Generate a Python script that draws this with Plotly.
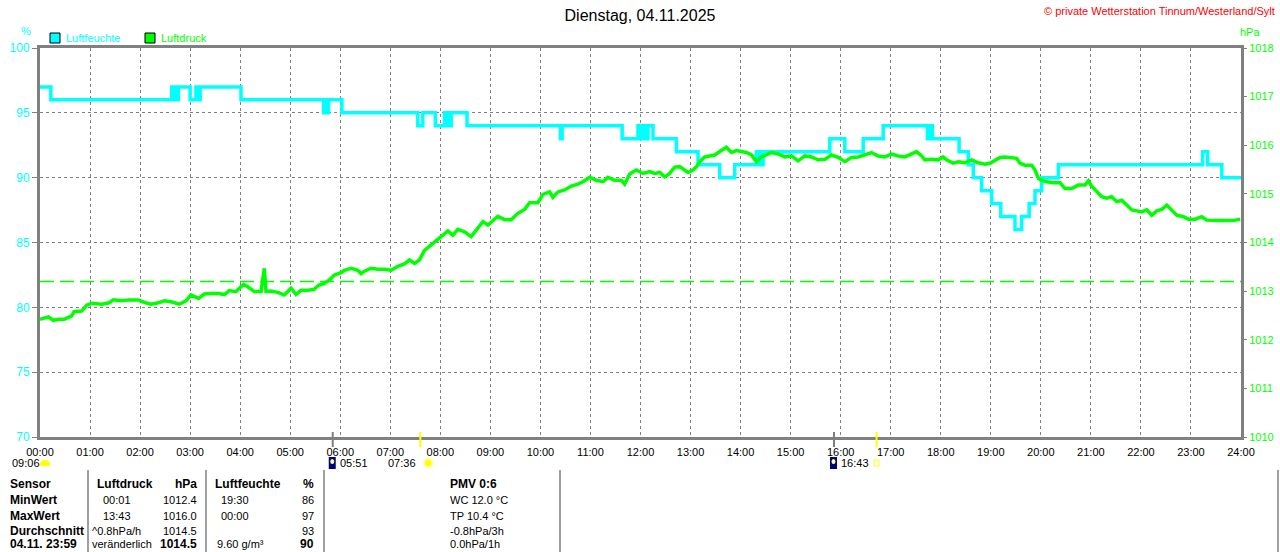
"""Tagesverlauf Luftfeuchte / Luftdruck - Wetterstation Tinnum."""

import plotly.graph_objects as go

P_TIMES = [
    "00:00", "00:10", "00:16", "00:22", "00:29", "00:38", "00:41", "00:50", "00:56",
    "01:02", "01:14", "01:23", "01:28", "01:38", "01:47", "01:58",
    "02:05", "02:13", "02:22", "02:29", "02:37", "02:47", "02:55",
    "03:01", "03:10", "03:17", "03:25", "03:34", "03:41", "03:47", "03:55",
    "04:04", "04:10", "04:17", "04:25", "04:29", "04:31", "04:37", "04:46", "04:53",
    "05:01", "05:07", "05:13", "05:22", "05:29", "05:34", "05:41", "05:47", "05:53",
    "06:01", "06:05", "06:13", "06:21", "06:25", "06:29", "06:37", "06:45", "06:53",
    "07:01", "07:09", "07:17", "07:23", "07:29", "07:35", "07:41", "07:49", "07:57",
    "08:03", "08:09", "08:15", "08:21", "08:29", "08:37", "08:45", "08:51", "08:57",
    "09:03", "09:09", "09:17", "09:25", "09:33", "09:41", "09:47", "09:57",
    "10:03", "10:11", "10:15", "10:21", "10:29", "10:37", "10:45", "10:51", "10:59",
    "11:07", "11:15", "11:21", "11:29", "11:37", "11:41", "11:47", "11:55",
    "12:03", "12:11", "12:17", "12:23", "12:29", "12:35", "12:41", "12:47", "12:53", "12:57",
    "13:03", "13:07", "13:11", "13:17", "13:23", "13:29", "13:35", "13:43", "13:49", "13:55",
    "14:01", "14:07", "14:13", "14:19", "14:25", "14:31", "14:37", "14:45", "14:53",
    "15:01", "15:09", "15:17", "15:25", "15:33", "15:41", "15:49", "15:57",
    "16:05", "16:13", "16:21", "16:29", "16:37", "16:45", "16:53",
    "17:01", "17:09", "17:17", "17:25", "17:31", "17:37", "17:41", "17:49", "17:57",
    "18:03", "18:07", "18:15", "18:21", "18:29", "18:37", "18:45", "18:53", "18:59",
    "19:05", "19:11", "19:17", "19:25", "19:31", "19:35", "19:41", "19:49", "19:53", "19:57",
    "20:01", "20:07", "20:15", "20:23", "20:29", "20:37", "20:45", "20:53", "20:57",
    "21:01", "21:07", "21:13", "21:19", "21:25", "21:31", "21:37", "21:43", "21:49", "21:55",
    "22:01", "22:07", "22:13", "22:19", "22:25", "22:31", "22:37", "22:43", "22:51", "22:57",
    "23:05", "23:13", "23:19", "23:27", "23:35", "23:43", "23:51", "23:59",
]
P_VALUES = [
    1012.42, 1012.47, 1012.40, 1012.42, 1012.42, 1012.49, 1012.58, 1012.59, 1012.71,
    1012.75, 1012.73, 1012.76, 1012.82, 1012.80, 1012.82, 1012.82,
    1012.77, 1012.73, 1012.76, 1012.80, 1012.78, 1012.73, 1012.80,
    1012.92, 1012.85, 1012.94, 1012.95, 1012.95, 1012.93, 1013.01, 1012.99,
    1013.14, 1013.08, 1012.99, 1012.99, 1013.47, 1012.99, 1013.00, 1012.97, 1012.92,
    1013.06, 1012.93, 1013.02, 1013.02, 1013.04, 1013.12, 1013.16, 1013.23, 1013.33,
    1013.38, 1013.43, 1013.47, 1013.43, 1013.36, 1013.41, 1013.47, 1013.45, 1013.45,
    1013.43, 1013.51, 1013.56, 1013.64, 1013.57, 1013.64, 1013.84, 1013.95, 1014.05,
    1014.15, 1014.24, 1014.15, 1014.27, 1014.22, 1014.12, 1014.29, 1014.43, 1014.36,
    1014.44, 1014.54, 1014.47, 1014.47, 1014.60, 1014.68, 1014.82, 1014.82,
    1014.99, 1015.04, 1014.93, 1015.04, 1015.08, 1015.16, 1015.20, 1015.25, 1015.34,
    1015.28, 1015.25, 1015.34, 1015.28, 1015.28, 1015.20, 1015.41, 1015.49,
    1015.42, 1015.46, 1015.42, 1015.44, 1015.35, 1015.42, 1015.55, 1015.56, 1015.50, 1015.44,
    1015.49, 1015.56, 1015.66, 1015.76, 1015.78, 1015.80, 1015.87, 1015.96, 1015.85, 1015.89,
    1015.87, 1015.85, 1015.80, 1015.66, 1015.76, 1015.80, 1015.85, 1015.82, 1015.76,
    1015.78, 1015.68, 1015.78, 1015.76, 1015.70, 1015.71, 1015.80, 1015.75,
    1015.66, 1015.75, 1015.76, 1015.80, 1015.85, 1015.78, 1015.76,
    1015.82, 1015.78, 1015.76, 1015.83, 1015.87, 1015.78, 1015.70, 1015.71, 1015.70,
    1015.76, 1015.70, 1015.63, 1015.66, 1015.64, 1015.70, 1015.64, 1015.61, 1015.63,
    1015.68, 1015.75, 1015.76, 1015.75, 1015.73, 1015.63, 1015.59, 1015.59, 1015.49, 1015.32,
    1015.28, 1015.25, 1015.23, 1015.23, 1015.11, 1015.11, 1015.18, 1015.18, 1015.27,
    1015.16, 1015.04, 1014.94, 1014.91, 1014.94, 1014.84, 1014.87, 1014.77, 1014.67, 1014.65,
    1014.63, 1014.67, 1014.56, 1014.65, 1014.68, 1014.77, 1014.67, 1014.56, 1014.53, 1014.48,
    1014.48, 1014.53, 1014.46, 1014.45, 1014.45, 1014.45, 1014.45, 1014.48,
]

# Luftfeuchte (%), Stufenverlauf: Zeitpunkt des Wechsels -> neuer Wert
H_TIMES = [
    "00:00", "00:13", "02:38", "02:40", "02:42", "02:44", "02:46", "03:00", "03:07",
    "03:09", "03:12", "04:01", "05:40", "05:42", "05:44", "05:46", "06:02", "07:33",
    "07:39", "07:54", "08:05", "08:07", "08:09", "08:11", "08:13", "08:32", "10:24",
    "10:26", "11:38", "11:57", "12:00", "12:03", "12:06", "12:09", "12:15", "12:43",
    "13:09", "13:35", "13:53", "14:19", "14:21", "14:23", "14:25", "14:27", "15:47",
    "16:05", "16:27", "16:51", "17:44", "17:47", "17:50", "18:22", "18:33", "18:39",
    "18:49", "19:01", "19:12", "19:29", "19:37", "19:46", "19:53", "20:01", "20:21",
    "23:14", "23:20", "23:37", "24:00",
]
H_VALUES = [
    97, 96, 97, 96, 97, 96, 97, 96, 97,
    96, 97, 96, 95, 96, 95, 96, 95, 94,
    95, 94, 95, 94, 95, 94, 95, 94, 93,
    94, 93, 94, 93, 94, 93, 94, 93, 92,
    91, 90, 91, 92, 91, 92, 91, 92, 93,
    92, 93, 94, 93, 94, 93, 92, 91, 90,
    89, 88, 87, 86, 87, 88, 89, 90, 91,
    92, 91, 90, 90,
]

REF_PRESSURE = 1013.2

HOUR_LABELS = ["00:00", "01:00", "02:00", "03:00", "04:00", "05:00", "06:00", "07:00",
               "08:00", "09:00", "10:00", "11:00", "12:00", "13:00", "14:00", "15:00",
               "16:00", "17:00", "18:00", "19:00", "20:00", "21:00", "22:00", "23:00",
               "24:00"]
HUM_TICKS = [70, 75, 80, 85, 90, 95, 100]
HPA_TICKS = [1010, 1011, 1012, 1013, 1014, 1015, 1016, 1017, 1018]

# Sonne / Mond
DAY_LENGTH = "09:06"
MOONSET = "05:51"
SUNRISE = "07:36"
MOONRISE = "15:52"
SUNSET = "16:43"

# Tabelle unter dem Diagramm
TABLE_ROW_LABELS = ["Sensor", "MinWert", "MaxWert", "Durchschnitt", "04.11. 23:59"]
PRESSURE_COL_TIME = ["Luftdruck", "00:01", "13:43", "^0.8hPa/h", "veränderlich"]
PRESSURE_COL_VALUE = ["hPa", "1012.4", "1016.0", "1014.5", "1014.5"]
HUMIDITY_COL_TIME = ["Luftfeuchte", "19:30", "00:00", "", "9.60 g/m³"]
HUMIDITY_COL_VALUE = ["%", "86", "97", "93", "90"]
EXTRA_COL = ["PMV 0:6", "WC 12.0 °C", "TP 10.4 °C", "-0.8hPa/3h", "0.0hPa/1h"]

CYAN = "#00FFFF"
GREEN = "#00FF00"
GRAY = "#808080"
FONT = "Arial, Liberation Sans, sans-serif"

# Plotbereich in Pixeln
L, R, T, B = 40, 1241, 48, 437


def to_hours(t):
    h, m = t.split(":")
    return int(h) + int(m) / 60


def px(x):
    return (x - L) / (R - L)


def py(y):
    return (B - y) / (B - T)


fig = go.Figure()

fig.add_trace(go.Scatter(
    x=[to_hours(t) for t in P_TIMES], y=P_VALUES, yaxis="y2",
    mode="lines", line=dict(color=GREEN, width=3.5), name="Luftdruck",
))
fig.add_trace(go.Scatter(
    x=[to_hours(t) for t in H_TIMES], y=H_VALUES,
    mode="lines", line=dict(color=CYAN, width=3.5, shape="hv"), name="Luftfeuchte",
))

shapes = []
annotations = []

# Referenzlinie Luftdruck
shapes.append(dict(type="line", xref="paper", x0=0, x1=1, yref="y2",
                   y0=REF_PRESSURE, y1=REF_PRESSURE,
                   line=dict(color=GREEN, width=1.5, dash="14px,6px"), layer="below"))

# Legende
for x0, label, col in [(50, "Luftfeuchte", CYAN), (145, "Luftdruck", GREEN)]:
    shapes.append(dict(type="rect", xref="paper", yref="paper",
                       x0=px(x0), x1=px(x0 + 10), y0=py(43), y1=py(33),
                       fillcolor=col, line=dict(color="black", width=1)))
    annotations.append(dict(text=label, xref="paper", yref="paper", x=px(x0 + 14), y=py(38),
                            xanchor="left", yanchor="middle", showarrow=False,
                            font=dict(color=col, size=11, family=FONT)))

annotations.append(dict(text="%", xref="paper", yref="paper", x=px(26), y=py(31),
                        xanchor="center", yanchor="middle", showarrow=False,
                        font=dict(color=CYAN, size=11, family=FONT)))
annotations.append(dict(text="hPa", xref="paper", yref="paper", x=px(1250), y=py(32),
                        xanchor="center", yanchor="middle", showarrow=False,
                        font=dict(color=GREEN, size=11, family=FONT)))
annotations.append(dict(text="© private Wetterstation Tinnum/Westerland/Sylt",
                        xref="paper", yref="paper", x=px(1277), y=py(11),
                        xanchor="right", yanchor="middle", showarrow=False,
                        font=dict(color="#FF0000", size=11, family=FONT)))

# Mond- und Sonnenmarken an der Zeitachse
for t, col in [(MOONSET, GRAY), (MOONRISE, GRAY), (SUNRISE, "#FFFF00"), (SUNSET, "#FFFF00")]:
    shapes.append(dict(type="line", xref="x", yref="paper", x0=to_hours(t), x1=to_hours(t),
                       y0=py(432), y1=py(447), line=dict(color=col, width=2)))

# Tageslaenge
annotations.append(dict(text=DAY_LENGTH, xref="paper", yref="paper", x=px(10), y=py(463),
                        xanchor="left", yanchor="middle", showarrow=False,
                        font=dict(color="black", size=11, family=FONT)))
shapes.append(dict(type="circle", xref="paper", yref="paper", x0=px(40), x1=px(50),
                   y0=py(468), y1=py(460), fillcolor="#FFFF00", line=dict(width=0)))
shapes.append(dict(type="rect", xref="paper", yref="paper", x0=px(39), x1=px(51),
                   y0=py(472), y1=py(466), fillcolor="white", line=dict(width=0)))

for t, label in [(MOONSET, MOONSET), (MOONRISE, SUNSET)]:
    h = to_hours(t)
    shapes.append(dict(type="rect", xref="x", yref="paper", x0=h - 0.08, x1=h + 0.06,
                       y0=py(469), y1=py(457), fillcolor="#000080", line=dict(width=0)))
    shapes.append(dict(type="circle", xref="x", yref="paper", x0=h - 0.05, x1=h + 0.03,
                       y0=py(464), y1=py(459), fillcolor="#FFFF80", line=dict(width=0)))
    annotations.append(dict(text=label, xref="x", yref="paper", x=h + 0.1, y=py(463),
                            xanchor="left", yanchor="middle", showarrow=False,
                            font=dict(color="black", size=11, family=FONT)))

h = to_hours(SUNRISE)
annotations.append(dict(text=SUNRISE, xref="x", yref="paper", x=h - 0.05, y=py(463),
                        xanchor="right", yanchor="middle", showarrow=False,
                        font=dict(color="black", size=11, family=FONT)))
shapes.append(dict(type="circle", xref="x", yref="paper", x0=h + 0.08, x1=h + 0.24,
                   y0=py(467), y1=py(459), fillcolor="#FFFF00",
                   line=dict(color="#FFFF80", width=2)))
h = to_hours(SUNSET)
shapes.append(dict(type="rect", xref="x", yref="paper", x0=h - 0.05, x1=h + 0.05,
                   y0=py(466), y1=py(460), fillcolor="white",
                   line=dict(color="#FFFF00", width=1)))

# Tabelle
for x in [88, 206, 324, 560, 1278]:
    shapes.append(dict(type="line", xref="paper", yref="paper", x0=px(x), x1=px(x),
                       y0=py(470), y1=py(560), line=dict(color="#A0A0A0", width=2)))

ROW_Y = [484, 500, 516, 531, 544]


def cell(text, x, y, anchor, bold):
    if not text:
        return
    annotations.append(dict(text=f"<b>{text}</b>" if bold else text,
                            xref="paper", yref="paper", x=px(x), y=py(y),
                            xanchor=anchor, yanchor="middle", showarrow=False,
                            font=dict(color="black", size=12 if bold else 11, family=FONT)))


for i, y in enumerate(ROW_Y):
    header = i == 0
    last = i == len(ROW_Y) - 1
    cell(TABLE_ROW_LABELS[i], 8, y, "left", True)
    t = PRESSURE_COL_TIME[i]
    cell(t, 95 if header else (101 if len(t) == 5 else 90), y, "left", header)
    cell(PRESSURE_COL_VALUE[i], 199, y, "right", header or last)
    t = HUMIDITY_COL_TIME[i]
    cell(t, 213 if header else (219 if len(t) == 5 else 215), y, "left", header)
    cell(HUMIDITY_COL_VALUE[i], 316, y, "right", header or last)
    cell(EXTRA_COL[i], 448, y, "left", header)

fig.update_layout(
    width=1280, height=552,
    margin=dict(l=L, r=1280 - R, t=T, b=552 - B, autoexpand=False),
    paper_bgcolor="white", plot_bgcolor="white",
    showlegend=False,
    title=dict(text="Dienstag, 04.11.2025", x=0.5, xanchor="center",
               y=1 - 15 / 552, yanchor="middle",
               font=dict(color="black", size=16, family=FONT)),
    font=dict(family=FONT, size=11),
    xaxis=dict(range=[0, 24], tickvals=list(range(25)), ticktext=HOUR_LABELS,
               showgrid=True, gridcolor=GRAY, griddash="3px,3px", gridwidth=1,
               showline=True, linecolor=GRAY, linewidth=3, mirror=True,
               ticks="outside", ticklen=3, tickcolor="white", automargin=False,
               tickfont=dict(color="black", size=11), zeroline=False, fixedrange=True),
    yaxis=dict(range=[70, 100], tickvals=HUM_TICKS,
               showgrid=True, gridcolor=GRAY, griddash="3px,3px", gridwidth=1,
               showline=True, linecolor=GRAY, linewidth=3, mirror=True,
               ticks="outside", ticklen=5, tickcolor=GRAY, automargin=False,
               tickfont=dict(color=CYAN, size=12), zeroline=False),
    yaxis2=dict(range=[1010, 1018], tickvals=HPA_TICKS, overlaying="y", side="right",
                showgrid=False, showline=False, ticks="outside", ticklen=5,
                tickcolor=GRAY, tickfont=dict(color=GREEN, size=11), zeroline=False,
                automargin=False),
    shapes=shapes,
    annotations=annotations,
)

# Seitenrand des Browsers entfernen, damit die Grafik bei (0, 0) beginnt
fig.write_html("out.html", config={"displayModeBar": False},
               post_script="document.body.style.margin = '0';")
